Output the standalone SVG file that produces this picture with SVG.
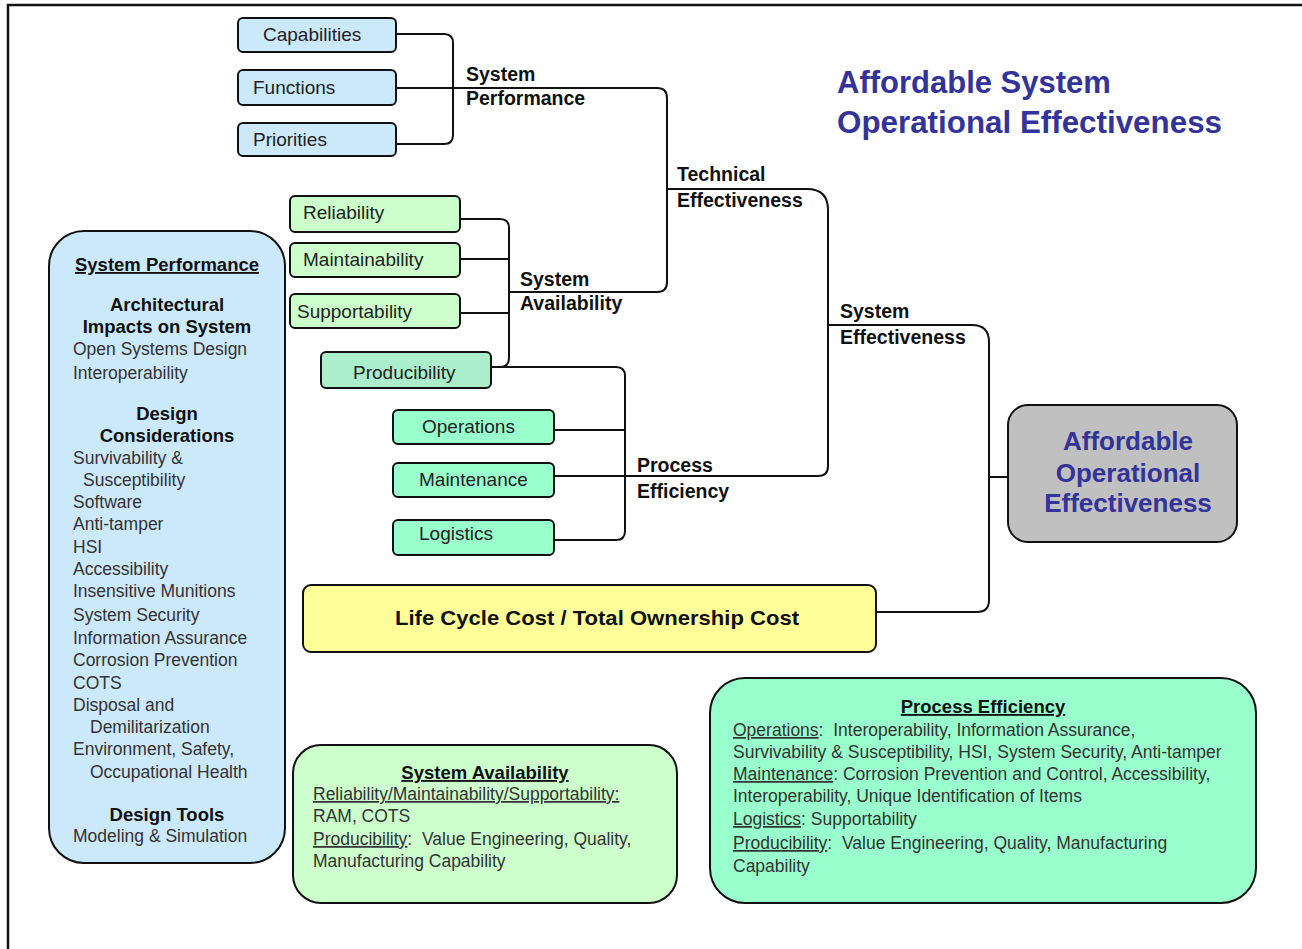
<svg xmlns="http://www.w3.org/2000/svg" width="1302" height="949" viewBox="0 0 1302 949">
<style>
.box{stroke:#111;stroke-width:2}
.blue{fill:#cce8fb}
.green{fill:#ccffcc}
.prod{fill:#aaeecc}
.mint{fill:#99ffcc}
.lbl{font-family:"Liberation Sans",Arial,sans-serif;font-size:19px;fill:#222}
.conn{font-family:"Liberation Sans",Arial,sans-serif;font-size:19.5px;font-weight:bold;fill:#111}
.reg{font-family:"Liberation Sans",Arial,sans-serif;font-size:17.5px;fill:#333;white-space:pre}
.bld{font-family:"Liberation Sans",Arial,sans-serif;font-size:18.5px;font-weight:bold;fill:#111}
.ttl{font-family:"Liberation Sans",Arial,sans-serif;font-weight:bold;fill:#333399}
.u{text-decoration:underline}
.wire{fill:none;stroke:#111;stroke-width:2}
</style>
<rect width="1302" height="949" fill="#fff"/>
<path d="M8,949 V5 H1302" fill="none" stroke="#111" stroke-width="2.5"/>

<g id="title">
<text class="ttl" x="837" y="93" font-size="31">Affordable System</text>
<text class="ttl" x="837" y="133" font-size="31" textLength="385" lengthAdjust="spacingAndGlyphs">Operational Effectiveness</text>
</g>

<g id="connectors">
<path class="wire" d="M396,34 H444 Q453,34 453,43 V135 Q453,144 444,144 H396"/>
<path class="wire" d="M396,88 H657 Q667,88 667,98 V282 Q667,292 657,292 H510"/>
<path class="wire" d="M460,219 H500 Q509,219 509,228 V358 Q509,367 500,367 H491"/>
<path class="wire" d="M460,259 H509"/>
<path class="wire" d="M460,313 H509"/>
<path class="wire" d="M491,367 H616 Q625,367 625,376 V531 Q625,540 616,540 H554"/>
<path class="wire" d="M554,430 H625"/>
<path class="wire" d="M554,476 H818 Q828,476 828,466 V210 Q828,189 807,189 H667"/>
<path class="wire" d="M828,325 H972 Q989,325 989,342 V600 Q989,612 977,612 H876"/>
<path class="wire" d="M989,477 H1007"/>
</g>

<g id="connector-labels">
<text class="conn" x="466" y="81">System</text>
<text class="conn" x="466" y="105">Performance</text>
<text class="conn" x="677" y="181">Technical</text>
<text class="conn" x="677" y="207">Effectiveness</text>
<text class="conn" x="520" y="286">System</text>
<text class="conn" x="520" y="310">Availability</text>
<text class="conn" x="840" y="318">System</text>
<text class="conn" x="840" y="344">Effectiveness</text>
<text class="conn" x="637" y="472">Process</text>
<text class="conn" x="637" y="498">Efficiency</text>
</g>

<g id="capabilities"><rect class="box blue" x="238" y="18" width="158" height="34" rx="5"/><text class="lbl" x="263" y="41">Capabilities</text></g>
<g id="functions"><rect class="box blue" x="238" y="70" width="158" height="35" rx="5"/><text class="lbl" x="253" y="94">Functions</text></g>
<g id="priorities"><rect class="box blue" x="238" y="123" width="158" height="33" rx="5"/><text class="lbl" x="253" y="146">Priorities</text></g>

<g id="reliability"><rect class="box green" x="290" y="196" width="170" height="36" rx="5"/><text class="lbl" x="303" y="219">Reliability</text></g>
<g id="maintainability"><rect class="box green" x="290" y="243" width="170" height="34" rx="5"/><text class="lbl" x="303" y="266">Maintainability</text></g>
<g id="supportability"><rect class="box green" x="290" y="294" width="170" height="34" rx="5"/><text class="lbl" x="297" y="318">Supportability</text></g>
<g id="producibility"><rect class="box prod" x="321" y="352" width="170" height="36" rx="5"/><text class="lbl" x="353" y="379">Producibility</text></g>

<g id="operations"><rect class="box mint" x="393" y="410" width="161" height="34" rx="5"/><text class="lbl" x="422" y="433">Operations</text></g>
<g id="maintenance"><rect class="box mint" x="393" y="463" width="161" height="34" rx="5"/><text class="lbl" x="419" y="486">Maintenance</text></g>
<g id="logistics"><rect class="box mint" x="393" y="520" width="161" height="35" rx="5"/><text class="lbl" x="419" y="540">Logistics</text></g>

<g id="lcc"><rect class="box" fill="#ffff99" x="303" y="585" width="573" height="67" rx="8"/>
<text x="597" y="625" text-anchor="middle" font-family="Liberation Sans, Arial, sans-serif" font-weight="bold" font-size="21" fill="#111" textLength="404" lengthAdjust="spacingAndGlyphs">Life Cycle Cost / Total Ownership Cost</text></g>

<g id="affordable"><rect class="box" fill="#c0c0c0" x="1008" y="405" width="229" height="137" rx="20"/>
<text class="ttl" font-size="26" text-anchor="middle" x="1128" y="450">Affordable</text>
<text class="ttl" font-size="26" text-anchor="middle" x="1128" y="482">Operational</text>
<text class="ttl" font-size="26" text-anchor="middle" x="1128" y="512">Effectiveness</text></g>

<g id="system-performance-panel"><rect class="box blue" x="49" y="231" width="236" height="632" rx="35"/>
<text class="bld u" x="167" y="271" text-anchor="middle">System Performance</text>
<text class="bld" x="167" y="311" text-anchor="middle">Architectural</text>
<text class="bld" x="167" y="333" text-anchor="middle">Impacts on System</text>
<text class="reg" x="73" y="355">Open Systems Design</text>
<text class="reg" x="73" y="379">Interoperability</text>
<text class="bld" x="167" y="420" text-anchor="middle">Design</text>
<text class="bld" x="167" y="442" text-anchor="middle">Considerations</text>
<text class="reg" x="73" y="464">Survivability &amp;</text>
<text class="reg" x="83" y="486">Susceptibility</text>
<text class="reg" x="73" y="508">Software</text>
<text class="reg" x="73" y="530">Anti-tamper</text>
<text class="reg" x="73" y="553">HSI</text>
<text class="reg" x="73" y="575">Accessibility</text>
<text class="reg" x="73" y="597">Insensitive Munitions</text>
<text class="reg" x="73" y="621">System Security</text>
<text class="reg" x="73" y="644">Information Assurance</text>
<text class="reg" x="73" y="666">Corrosion Prevention</text>
<text class="reg" x="73" y="689">COTS</text>
<text class="reg" x="73" y="711">Disposal and</text>
<text class="reg" x="90" y="733">Demilitarization</text>
<text class="reg" x="73" y="755">Environment, Safety,</text>
<text class="reg" x="90" y="778">Occupational Health</text>
<text class="bld" x="167" y="821" text-anchor="middle">Design Tools</text>
<text class="reg" x="73" y="842">Modeling &amp; Simulation</text>
</g>

<g id="system-availability-panel"><rect class="box green" x="293" y="745" width="384" height="158" rx="28"/>
<text class="bld u" x="485" y="779" text-anchor="middle">System Availability</text>
<text class="reg u" x="313" y="800">Reliability/Maintainability/Supportability:</text>
<text class="reg" x="313" y="822">RAM, COTS</text>
<text class="reg" x="313" y="845"><tspan class="u">Producibility</tspan>:  Value Engineering, Quality,</text>
<text class="reg" x="313" y="867">Manufacturing Capability</text>
</g>

<g id="process-efficiency-panel"><rect class="box mint" x="710" y="678" width="546" height="225" rx="35"/>
<text class="bld u" x="983" y="713" text-anchor="middle">Process Efficiency</text>
<text class="reg" x="733" y="736"><tspan class="u">Operations</tspan>:  Interoperability, Information Assurance,</text>
<text class="reg" x="733" y="758">Survivability &amp; Susceptibility, HSI, System Security, Anti-tamper</text>
<text class="reg" x="733" y="780"><tspan class="u">Maintenance</tspan>: Corrosion Prevention and Control, Accessibility,</text>
<text class="reg" x="733" y="802">Interoperability, Unique Identification of Items</text>
<text class="reg" x="733" y="825"><tspan class="u">Logistics</tspan>: Supportability</text>
<text class="reg" x="733" y="849"><tspan class="u">Producibility</tspan>:  Value Engineering, Quality, Manufacturing</text>
<text class="reg" x="733" y="872">Capability</text>
</g>
</svg>
